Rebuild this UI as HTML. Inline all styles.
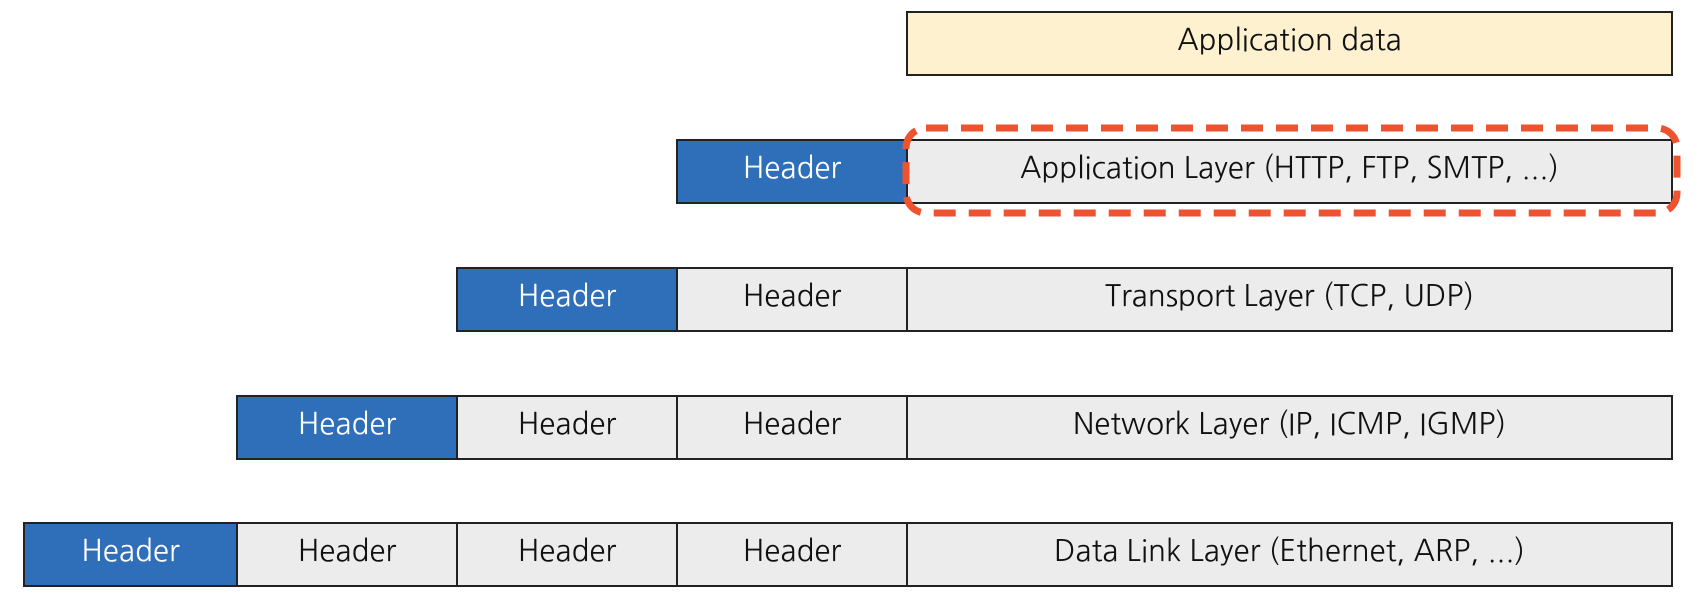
<!DOCTYPE html>
<html><head><meta charset="utf-8"><style>
body{margin:0;width:1702px;height:596px;background:#fff;position:relative;overflow:hidden;font-family:"NanumGothic","Liberation Sans",sans-serif;}
.b{position:absolute;box-sizing:border-box;border:2px solid #222;display:flex;align-items:center;justify-content:center;font-size:29.5px;color:#111;background:#ececec;padding-bottom:6px;}
.h{background:#2f6eb8;color:#fff;}
.y{background:#fdf1d0;}
</style></head><body>
<div class="b y" style="left:906px;top:11px;width:767px;height:65px;">Application data</div>

<div class="b h" style="left:676px;top:139px;width:232px;height:65px;">Header</div>
<div class="b" style="left:906px;top:139px;width:767px;height:65px;">Application Layer (HTTP, FTP, SMTP, ...)</div>

<div class="b h" style="left:456px;top:267px;width:222px;height:65px;">Header</div>
<div class="b" style="left:676px;top:267px;width:232px;height:65px;">Header</div>
<div class="b" style="left:906px;top:267px;width:767px;height:65px;">Transport Layer (TCP, UDP)</div>

<div class="b h" style="left:236px;top:395px;width:222px;height:65px;">Header</div>
<div class="b" style="left:456px;top:395px;width:222px;height:65px;">Header</div>
<div class="b" style="left:676px;top:395px;width:232px;height:65px;">Header</div>
<div class="b" style="left:906px;top:395px;width:767px;height:65px;">Network Layer (IP, ICMP, IGMP)</div>

<div class="b h" style="left:23px;top:522px;width:215px;height:65px;">Header</div>
<div class="b" style="left:236px;top:522px;width:222px;height:65px;">Header</div>
<div class="b" style="left:456px;top:522px;width:222px;height:65px;">Header</div>
<div class="b" style="left:676px;top:522px;width:232px;height:65px;">Header</div>
<div class="b" style="left:906px;top:522px;width:767px;height:65px;">Data Link Layer (Ethernet, ARP, ...)</div>

<svg style="position:absolute;left:0;top:0" width="1702" height="596">
<rect x="906" y="128" width="771" height="85" rx="20" ry="20" fill="none" stroke="#ee5330" stroke-width="7" stroke-dasharray="22 13"/>
</svg>
</body></html>
